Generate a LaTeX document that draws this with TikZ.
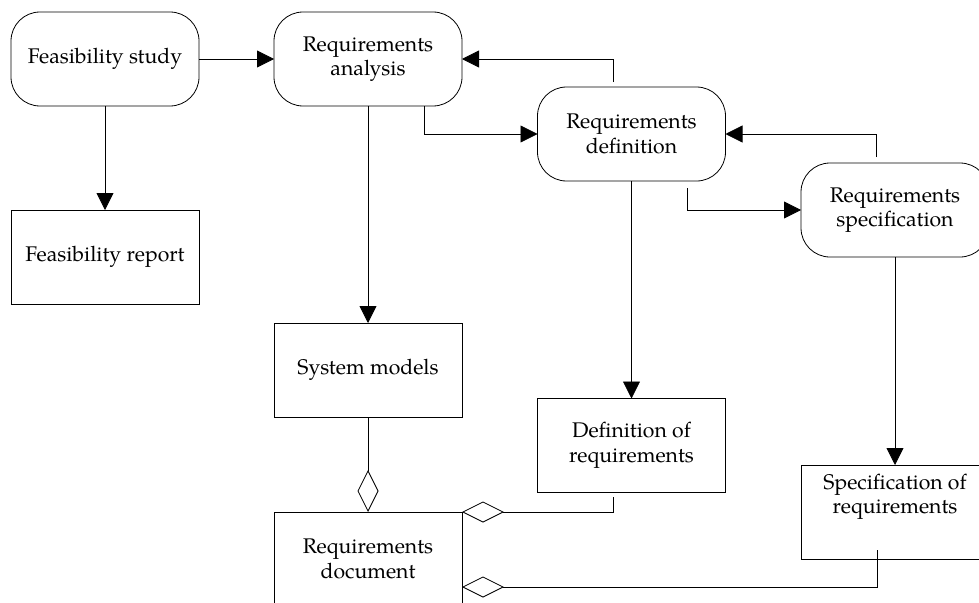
\documentclass[tikz,border=0pt]{standalone}
\usepackage{fontspec}
\setmainfont{TeX Gyre Pagella}
\usetikzlibrary{arrows.meta,calc}

\tikzset{
  lbl/.style={font=\fontsize{21.2}{24.5}\selectfont, align=center},
  proc/.style={lbl, draw, rounded corners=29pt, minimum width=188pt, minimum height=94pt, inner sep=0pt, outer sep=0pt},
  doc/.style={lbl, draw, minimum width=188pt, minimum height=94pt, inner sep=0pt, outer sep=0pt},
  arr/.style={-{Triangle[length=17pt,width=17pt]}},
  agg/.style={{Diamond[open,length=42pt,width=21pt]}-}
}

\begin{document}
\begin{tikzpicture}[x=1pt,y=-1pt,line width=0.8pt]
  \useasboundingbox (0,0) rectangle (979,602);
  \clip (0,0) rectangle (979,602);

  % activities
  \node[proc] (fs) at (105,59)    {Feasibility study};
  \node[proc] (ra) at (368,59)    {Requirements\\analysis};
  \node[proc] (rd) at (631.5,134) {Requirements\\definition};
  \node[proc] (rs) at (895,210)   {Requirements\\specification};

  % deliverables
  \node[doc] (fr)  at (105,257)   {Feasibility report};
  \node[doc] (sm)  at (368,370)   {System models};
  \node[doc] (dr)  at (631.5,445.5) {Definition of\\requirements};
  \node[doc] (sr)  at (895,512)   {};
  \node[lbl] (srt) at (895,497)   {Specification of\\requirements};
  \node[doc] (rdoc) at (368,559)  {Requirements\\document};

  % process flow
  \draw[arr] (fs) -- (ra);
  \draw[arr] (fs) -- (fr);
  \draw[arr] (ra) -- (sm);
  \draw[arr] ([xshift=56pt]ra.south) |- (rd.west);
  \draw[arr] ([xshift=-18.5pt,yshift=5pt]rd.north) |- (ra.east);
  \draw[arr] (rd) -- (dr);
  \draw[arr] ([xshift=55.5pt,yshift=-7pt]rd.south) |- (rs.west);
  \draw[arr] ([xshift=-19pt,yshift=6pt]rs.north) |- (rd.east);
  \draw[arr] (rs) -- (sr);

  % parts of the requirements document
  \coordinate (low) at ([yshift=-75pt]rdoc.north east);
  \draw[agg] (rdoc.north) -- (sm.south);
  \draw[agg] (rdoc.north east) -| ([xshift=-18.5pt,yshift=-4pt]dr.south);
  \draw[agg] (low) -| ([xshift=-18pt,yshift=9pt]sr.south);
\end{tikzpicture}
\end{document}
